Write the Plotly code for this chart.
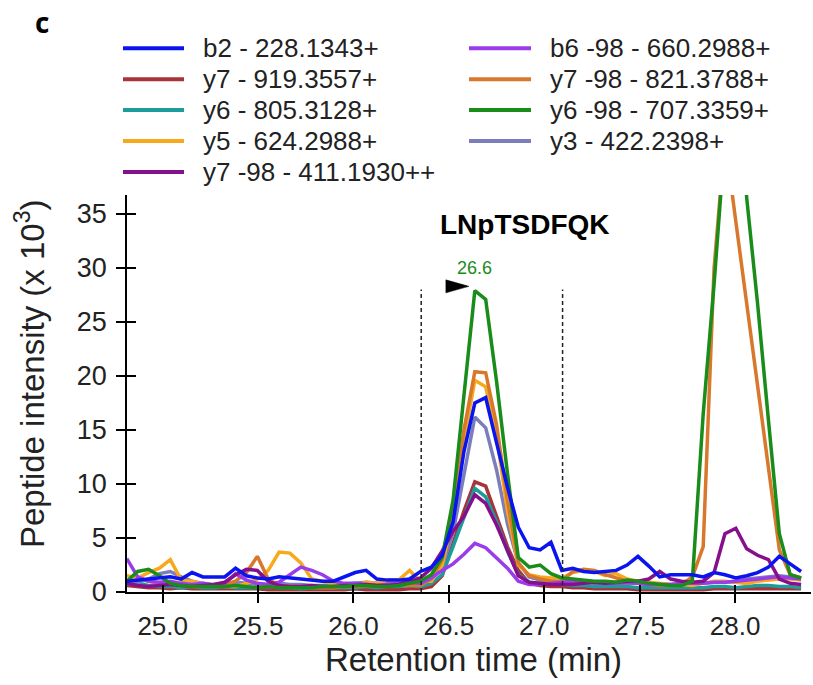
import plotly.graph_objects as go

# ---------------- data ----------------
time_min = [24.812, 24.869, 24.926, 24.983, 25.040, 25.097, 25.154, 25.211, 25.268, 25.325,
            25.382, 25.439, 25.496, 25.553, 25.610, 25.667, 25.724, 25.781, 25.838, 25.895,
            25.952, 26.009, 26.066, 26.123, 26.180, 26.237, 26.294, 26.351, 26.408, 26.465,
            26.522, 26.579, 26.636, 26.693, 26.750, 26.807, 26.864, 26.921, 26.978, 27.035,
            27.092, 27.149, 27.206, 27.263, 27.320, 27.377, 27.434, 27.491, 27.548, 27.605,
            27.662, 27.719, 27.776, 27.833, 27.890, 27.947, 28.004, 28.061, 28.118, 28.175,
            28.232, 28.289, 28.346]

b2_228 = [1.0, 1.1, 1.2, 1.3, 1.4, 1.2, 1.8, 1.4, 1.4, 1.4, 2.2, 1.5, 1.3, 1.2, 1.4, 1.3, 1.2, 1.1, 1.0, 1.0,
          1.4, 1.8, 2.0, 1.2, 1.1, 1.1, 1.2, 1.9, 2.3,
          3.4, 6.5, 13.0, 17.5, 18.0, 13.8, 9.7, 6.0, 4.1, 3.9, 4.6, 2.0,
          2.2, 1.9, 1.8, 1.9, 2.0, 2.5, 3.3, 2.4, 1.4, 1.6, 1.6, 1.6, 1.4, 1.8, 1.6, 1.3, 1.5, 1.8, 2.3, 3.3, 2.6, 1.9]
y7_919 = [0.6, 0.5, 0.4, 0.4, 0.3, 0.4, 0.3, 0.3, 0.3, 0.3, 0.3, 0.3, 0.3, 0.2, 0.2, 0.2, 0.2, 0.2, 0.2, 0.2,
          0.2, 0.3, 0.2, 0.2, 0.2, 0.2, 0.3,
          0.3, 0.5, 1.5, 4.5, 7.5, 10.2, 9.8, 7.0, 4.2, 2.0, 0.8, 0.6, 0.5, 0.5,
          0.4, 0.4, 0.3, 0.3, 0.3, 0.3, 0.2, 0.2, 0.2, 0.2, 0.2, 0.2, 0.2, 0.3, 0.3, 0.3, 0.3, 0.3, 0.3, 0.3, 0.3, 0.3]
y6_805 = [0.7, 0.8, 0.6, 0.5, 0.5, 0.4, 0.5, 0.4, 0.4, 0.5, 0.4, 0.4, 0.4, 0.5, 0.4, 0.4, 0.3, 0.4, 0.4, 0.4,
          0.4, 0.4, 0.5, 0.4, 0.5, 0.5, 0.6,
          0.5, 0.8, 1.6, 4.2, 7.0, 9.6, 8.8, 6.5, 3.8, 1.6, 0.9, 0.8, 0.8, 0.7,
          0.6, 0.6, 0.5, 0.5, 0.5, 0.5, 0.4, 0.4, 0.4, 0.4, 0.4, 0.4, 0.4, 0.5, 0.5, 0.4, 0.5, 0.6, 0.6, 0.5, 0.5, 0.4]
y5_624 = [1.5, 1.3, 1.8, 2.2, 3.0, 1.1, 1.0, 0.7, 0.6, 0.5, 0.5, 0.8, 1.2, 2.0, 3.7, 3.6, 2.7, 1.2, 1.0, 0.7,
          0.5, 0.6, 0.9, 0.8, 1.1, 1.1, 2.0,
          1.0, 1.0, 2.5, 7.0, 14.0, 19.6, 19.0, 14.5, 7.5, 2.5, 1.6, 1.4, 1.3, 1.3,
          1.8, 2.0, 1.9, 1.5, 1.7, 1.2, 1.0, 0.9, 0.8, 0.7, 0.7, 0.6, 0.8, 1.0, 1.0, 0.9, 0.8, 1.0, 1.1, 1.2, 1.2, 1.1]
y7_98_411 = [0.8, 0.6, 0.5, 0.6, 0.7, 0.6, 0.5, 0.6, 0.7, 0.9, 1.6, 2.1, 2.0, 1.0, 0.6, 0.5, 0.5, 0.6, 0.5, 0.5,
             0.6, 0.6, 0.7, 0.6, 0.6, 0.7, 1.0,
             1.3, 2.2, 3.8, 5.6, 7.0, 9.0, 8.2, 6.2, 3.8, 1.5, 0.9, 0.8, 0.7, 0.7,
             0.7, 0.8, 0.9, 0.8, 0.9, 1.0, 1.0, 1.2, 1.9, 1.2, 1.0, 0.9, 1.0, 1.8, 5.4, 5.9, 4.0, 3.4, 3.0, 1.2, 0.8, 0.7]
b6_98_660 = [3.1, 1.4, 1.0, 0.9, 1.0, 0.8, 0.7, 0.8, 0.6, 0.8, 1.7, 1.1, 0.8, 0.7, 0.9, 1.6, 2.3, 2.0, 1.6, 1.0,
             0.8, 0.8, 0.7, 0.6, 0.7, 0.8, 0.9,
             0.8, 1.3, 2.0, 2.6, 3.5, 4.5, 4.1, 3.2, 2.2, 1.0, 0.7, 0.7, 0.8, 0.9,
             1.0, 1.0, 0.9, 0.8, 0.8, 0.9, 0.8, 0.7, 0.7, 0.7, 0.8, 0.8, 0.8, 0.9, 0.9, 1.0, 1.1, 1.2, 1.3, 1.4, 1.3, 1.2]
y7_98_821 = [0.8, 1.2, 1.0, 0.8, 0.7, 0.6, 0.5, 0.5, 0.6, 0.7, 1.0, 1.8, 3.3, 1.2, 0.6, 0.5, 0.5, 0.4, 0.4, 0.4,
             0.5, 0.5, 0.6, 0.5, 0.6, 0.7, 0.6,
             0.6, 1.2, 3.0, 7.5, 15.0, 20.4, 20.3, 15.5, 8.5, 2.7, 1.5, 1.2, 1.0, 1.0,
             1.9, 2.1, 2.0, 1.6, 1.3, 1.0, 0.8, 0.7, 0.6, 0.6, 0.7, 1.4, 4.2, 30.0, 42.0, 34.3, 26.6, 18.8, 11.0, 3.9, 1.6, 1.3]
y6_98_707 = [1.0, 1.9, 2.1, 1.5, 0.8, 0.6, 0.5, 0.5, 0.5, 0.5, 0.6, 0.5, 0.4, 0.5, 0.4, 0.4, 0.4, 0.4, 0.5, 0.5,
             0.5, 0.6, 0.6, 0.5, 0.5, 0.6, 0.8,
             1.0, 1.6, 3.2, 8.5, 18.5, 27.9, 27.1, 19.5, 11.0, 3.2, 2.3, 2.5, 1.7, 1.3,
             1.2, 1.1, 1.0, 1.0, 0.9, 1.1, 1.0, 0.8, 0.7, 0.6, 0.6, 1.0, 16.5, 28.5, 42.0, 50.0, 36.5, 26.7, 15.9, 5.4, 1.6, 1.3]
y3_422 = [1.0, 0.9, 1.2, 1.7, 1.9, 1.4, 1.0, 0.8, 0.7, 0.8, 0.9, 0.8, 0.7, 0.7, 0.8, 0.7, 0.7, 0.6, 0.6, 0.7,
          0.7, 0.8, 0.9, 0.8, 0.8, 0.8, 0.9,
          0.9, 1.3, 2.4, 5.5, 11.0, 16.2, 15.2, 11.3, 6.3, 2.7, 1.4, 1.1, 1.0, 0.9,
          0.9, 0.9, 0.8, 0.8, 0.8, 0.8, 0.8, 0.7, 0.7, 0.7, 0.7, 0.8, 0.8, 0.9, 0.9, 1.0, 1.2, 1.3, 1.4, 1.5, 1.4, 1.2]

series_names = ["b2 - 228.1343+", "y7 - 919.3557+", "y6 - 805.3128+", "y5 - 624.2988+",
                "y7 -98 - 411.1930++", "b6 -98 - 660.2988+", "y7 -98 - 821.3788+",
                "y6 -98 - 707.3359+", "y3 - 422.2398+"]
series_values = [b2_228, y7_919, y6_805, y5_624, y7_98_411, b6_98_660, y7_98_821, y6_98_707, y3_422]
series_colors = ["#0A14F0", "#A8343A", "#1C9C9A", "#F8A81C", "#86108C",
                 "#9A3CEA", "#D8782C", "#1A8C1A", "#7C7EBC"]

x_ticks = [25.0, 25.5, 26.0, 26.5, 27.0, 27.5, 28.0]
y_ticks = [0, 5, 10, 15, 20, 25, 30, 35]
x_range = [24.813, 28.398]
y_range = [0, 36.76]

window_bounds = [26.355, 27.096]   # dashed integration window
window_top = 28.0
apex_time = 26.636
apex_label = "26.6"
apex_marker = (26.542, 28.3)
peptide = "LNpTSDFQK"

# ---------------- figure ----------------
FONT = "Liberation Sans, Arial, sans-serif"
W, H = 813, 685
ML, MR, MT, MB = 127, 2, 195, 93
PW, PH = W - ML - MR, H - MT - MB


def px_x(X):
    return (X - ML) / PW


def px_y(Y):
    return (H - MB - Y) / PH


fig = go.Figure()

draw_order = [1, 2, 8, 3, 6, 5, 4, 7, 0]
for k in draw_order:
    fig.add_trace(go.Scatter(
        x=time_min, y=series_values[k], mode="lines", name=series_names[k],
        line=dict(color=series_colors[k], width=3.5), showlegend=False,
        hoverinfo="x+y+name"))

# invisible trace for the overlaid (inside-tick) axes
fig.add_trace(go.Scatter(x=[time_min[0]], y=[0], xaxis="x2", yaxis="y2", mode="markers",
                         marker=dict(opacity=0), showlegend=False, hoverinfo="skip"))

axis_common = dict(showgrid=False, zeroline=False, ticks="outside", ticklen=9, tickwidth=1.5,
                   tickcolor="black", showline=True, linecolor="black", linewidth=1.5)

fig.update_layout(
    width=W, height=H, margin=dict(l=ML, r=MR, t=MT, b=MB, pad=0),
    paper_bgcolor="white", plot_bgcolor="white",
    xaxis=dict(range=x_range, tickvals=x_ticks, tickformat=".1f", ticklabelstandoff=1,
               tickfont=dict(family=FONT, size=26, color="#222222"), **axis_common),
    yaxis=dict(range=y_range, tickvals=y_ticks, ticklabelstandoff=4,
               tickfont=dict(family=FONT, size=27, color="#222222"), **axis_common),
    xaxis2=dict(range=x_range, tickvals=x_ticks, overlaying="x", anchor="y", side="bottom",
                ticks="inside", ticklen=7, tickwidth=1.5, tickcolor="black",
                showticklabels=False, showline=False, showgrid=False, zeroline=False),
    yaxis2=dict(range=y_range, tickvals=y_ticks, overlaying="y", anchor="x", side="left",
                ticks="inside", ticklen=9, tickwidth=1.5, tickcolor="black",
                showticklabels=False, showline=False, showgrid=False, zeroline=False),
    showlegend=False,
)

# dashed window lines
for xb in window_bounds:
    fig.add_shape(type="line", xref="x", yref="y", x0=xb, x1=xb, y0=0, y1=window_top,
                  line=dict(color="#222222", width=1.5, dash="4px,3px"))

# apex pointer (pixel-sized triangle anchored at the apex position)
fig.add_shape(type="path", xref="x", yref="y", xsizemode="pixel", ysizemode="pixel",
              xanchor=apex_marker[0], yanchor=apex_marker[1],
              path="M -11,-6.5 L 12,0 L -11,6.5 Z", fillcolor="black",
              line=dict(color="black", width=0.5))

annotations = []


def add_text(x, y, text, size, color="#222222", family=FONT, ref="paper", **kw):
    d = dict(x=x, y=y, xref=ref, yref=ref, text=text, showarrow=False,
             xanchor=kw.pop("xanchor", "center"), yanchor=kw.pop("yanchor", "middle"),
             font=dict(family=family, size=size, color=color))
    d.update(kw)
    annotations.append(d)


add_text(apex_time, 30.0, apex_label, 18, color="#1A8C1A", ref="x")
annotations[-1]["yref"] = "y"
add_text(26.898, 34.0, "<b>" + peptide + "</b>", 28, color="black", ref="x")
annotations[-1]["yref"] = "y"
add_text(px_x(42), px_y(22), "<b>c</b>", 28, color="black", family="Open Sans, " + FONT)
add_text(px_x(473), px_y(659), "Retention time (min)", 33)
add_text(px_x(30), px_y(374), "Peptide intensity (x 10<sup>3</sup>)", 33, textangle=-90)

# two-column legend
legend_cols = [[0, 1, 2, 3, 4], [5, 6, 7, 8]]
col_line_x = [(123, 184), (469, 531)]
col_text_x = [201, 548]
row_y0, row_dy = 48.3, 30.9
for c, items in enumerate(legend_cols):
    for r, k in enumerate(items):
        Y = row_y0 + r * row_dy
        fig.add_shape(type="line", xref="paper", yref="paper",
                      x0=px_x(col_line_x[c][0]), x1=px_x(col_line_x[c][1]), y0=px_y(Y), y1=px_y(Y),
                      line=dict(color=series_colors[k], width=4))
        add_text(px_x(col_text_x[c]), px_y(Y), series_names[k], 26, xanchor="left")

fig.update_layout(annotations=annotations)
fig.write_html("out.html")
